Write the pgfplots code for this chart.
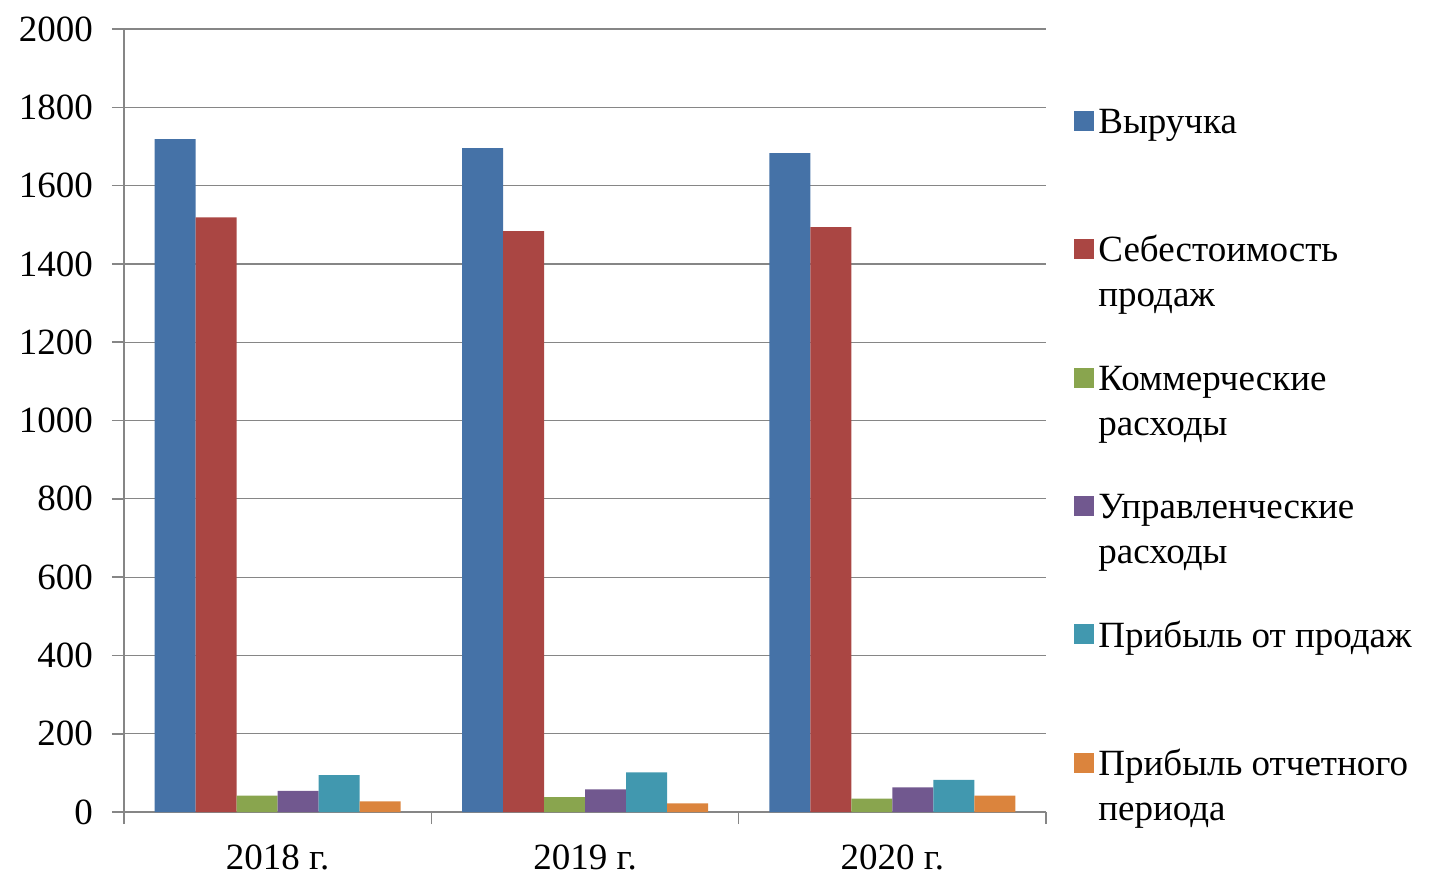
\documentclass[border=0pt]{standalone}
\usepackage{fontspec}
\setmainfont{Liberation Serif}
\usepackage{pgfplots}
\pgfplotsset{compat=1.18}
\definecolor{c1}{HTML}{4572A7}
\definecolor{c2}{HTML}{AA4643}
\definecolor{c3}{HTML}{89A54E}
\definecolor{c4}{HTML}{71588F}
\definecolor{c5}{HTML}{4198AF}
\definecolor{c6}{HTML}{DB843D}
\definecolor{gridc}{HTML}{868686}
\newcommand{\LE}[1]{\parbox[t]{175pt}{#1}}
\begin{document}
\begin{tikzpicture}
\begin{axis}[
  at={(0,0)}, anchor=south west,
  scale only axis, width=461pt, height=391.5pt,
  xmin=-0.5, xmax=2.5, ymin=0, ymax=2000,
  ybar=0pt, bar width=20.5pt,
  xtick={0,1,2}, xticklabels={2018 г.,2019 г.,2020 г.},
  major x tick style={draw=none},
  minor xtick={-0.5,0.5,1.5,2.5},
  minor tick length=6pt,
  ytick={0,200,...,2000},
  major tick length=6pt,
  tick align=outside,
  axis x line*=bottom, axis y line*=left,
  axis line style={gridc, line width=0.8pt},
  every tick/.style={gridc, line width=0.8pt},
  ymajorgrids, grid style={gridc, line width=0.6pt},
  /pgf/number format/assume math mode=true,
  /pgf/number format/1000 sep={},
  tick label style={font=\fontsize{18.5}{22.5}\selectfont, text=black},
  yticklabel style={xshift=-6pt},
  xticklabel style={yshift=-7pt},
  legend style={at={(1,1)}, anchor=north west, xshift=12pt, yshift=-38pt,
    draw=none, fill=none, font=\fontsize{18.5}{22.5}\selectfont,
    row sep=0pt, inner sep=0pt,
    nodes={inner sep=0pt, text height=14pt, text depth=50.2pt}},
  legend cell align=left,
  legend image code/.code={\path[draw=none, fill=none, opacity=0] (0pt,19.4pt) -- (14pt,19.4pt); \fill[#1] (2pt,19.4pt) rectangle (12pt,29.4pt);},
]
\addplot[fill=c1, draw=none] coordinates {(0,1719) (1,1696) (2,1683)};
\addlegendentry{\LE{Выручка}}
\addplot[fill=c2, draw=none] coordinates {(0,1519) (1,1484) (2,1494)};
\addlegendentry{\LE{Себестоимость\\продаж}}
\addplot[fill=c3, draw=none] coordinates {(0,42) (1,38) (2,34)};
\addlegendentry{\LE{Коммерческие\\расходы}}
\addplot[fill=c4, draw=none] coordinates {(0,54) (1,58) (2,63)};
\addlegendentry{\LE{Управленческие\\расходы}}
\addplot[fill=c5, draw=none] coordinates {(0,94) (1,101) (2,82)};
\addlegendentry{\LE{Прибыль от продаж}}
\addplot[fill=c6, draw=none] coordinates {(0,27) (1,22) (2,42)};
\addlegendentry{\LE{Прибыль отчетного\\периода}}
\end{axis}
\pgfresetboundingbox
\path (-62pt,-31.5pt) rectangle (655pt,406pt);
\end{tikzpicture}
\end{document}
